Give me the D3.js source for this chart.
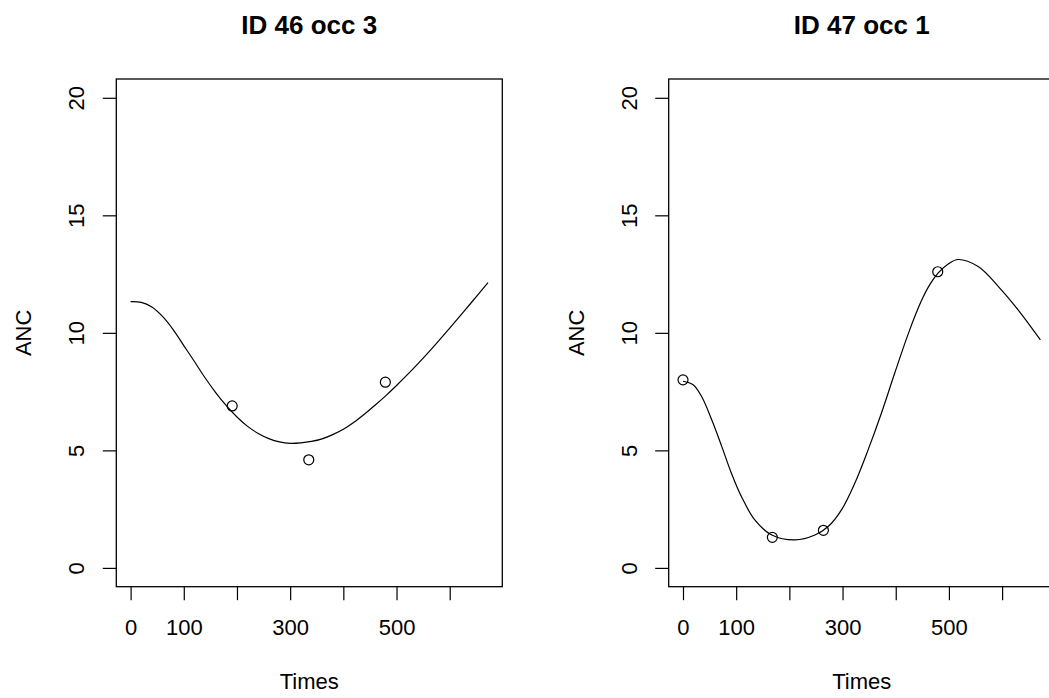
<!DOCTYPE html>
<html>
<head>
<meta charset="utf-8">
<script src="https://cdn.jsdelivr.net/npm/d3@7"></script>
<style>
  html, body { margin: 0; padding: 0; background: #fff; }
  svg { display: block; }
  text { font-family: "Liberation Sans", Arial, Helvetica, sans-serif; fill: #000; }
</style>
</head>
<body>
<svg id="chart" width="1049" height="698"></svg>
<script>
// ---- data ----
const panelTitles = ["ID 46 occ 3", "ID 47 occ 1"];
const xLabel = "Times";
const yLabel = "ANC";

// observed points
const obsTimes46 = [191, 335, 479];
const obsValues46 = [6.89, 4.6, 7.9];
const obsTimes47 = [0, 168, 264, 479];
const obsValues47 = [8.0, 1.3, 1.6, 12.6];

// fitted curves
const fitTimes46 = [0, 20, 40, 60, 80, 100, 120, 140, 160, 180, 200, 220, 240, 260, 280, 300, 320, 340, 360, 380, 400, 420, 440, 460, 480, 500, 520, 540, 560, 580, 600, 620, 640, 672];
const fitValues46 = [11.33, 11.30, 11.10, 10.70, 10.14, 9.46, 8.78, 8.09, 7.46, 6.90, 6.42, 6.02, 5.72, 5.50, 5.36, 5.30, 5.32, 5.38, 5.49, 5.67, 5.90, 6.20, 6.55, 6.93, 7.33, 7.76, 8.21, 8.68, 9.17, 9.68, 10.20, 10.73, 11.27, 12.14];
const fitTimes47 = [0, 19, 35, 54, 73, 91, 110, 135, 167, 211, 248, 273, 298, 323, 348, 373, 398, 424, 448, 464, 480, 500, 517, 555, 593, 630, 672];
const fitValues47 = [7.94, 7.79, 7.29, 6.30, 5.16, 4.03, 3.03, 2.04, 1.40, 1.19, 1.40, 1.76, 2.47, 3.60, 5.02, 6.58, 8.28, 9.99, 11.35, 12.05, 12.55, 12.95, 13.12, 12.82, 11.97, 10.98, 9.70];

const xTicks = [0, 100, 200, 300, 400, 500, 600];
const xTickLabels = ["0", "100", "", "300", "", "500", ""];
const yTicks = [0, 5, 10, 15, 20];
const yTickLabels = ["0", "5", "10", "15", "20"];
const xDataRange = [0, 672];
const yDataRange = [0, 20];

// ---- layout ----
const panels = [
  { title: panelTitles[0], left: 116.3, obsT: obsTimes46, obsV: obsValues46, fitT: fitTimes46, fitV: fitValues46 },
  { title: panelTitles[1], left: 668.7, obsT: obsTimes47, obsV: obsValues47, fitT: fitTimes47, fitV: fitValues47 }
];
const boxW = 386, boxTop = 79, boxBottom = 586.7;
const axisFont = 22, titleFont = 26;
const tickLen = 13.5;

function pad(r) { const d = (r[1] - r[0]) * 0.04; return [r[0] - d, r[1] + d]; }

const svg = d3.select("#chart");

panels.forEach(p => {
  const x = d3.scaleLinear().domain(pad(xDataRange)).range([p.left, p.left + boxW]);
  const y = d3.scaleLinear().domain(pad(yDataRange)).range([boxBottom, boxTop]);
  const g = svg.append("g");
  const cx = p.left + boxW / 2;

  // fitted curve
  const line = d3.line().x(d => x(d[0])).y(d => y(d[1])).curve(d3.curveCatmullRom.alpha(0.5));
  g.append("path")
    .datum(p.fitT.map((t, i) => [t, p.fitV[i]]))
    .attr("d", line)
    .attr("fill", "none").attr("stroke", "#000").attr("stroke-width", 1.2);

  // observed points
  g.selectAll("circle.obs").data(p.obsT.map((t, i) => [t, p.obsV[i]]))
    .enter().append("circle")
    .attr("cx", d => x(d[0])).attr("cy", d => y(d[1])).attr("r", 5)
    .attr("fill", "none").attr("stroke", "#000").attr("stroke-width", 1.2);

  // box
  g.append("rect")
    .attr("x", p.left).attr("y", boxTop).attr("width", boxW).attr("height", boxBottom - boxTop)
    .attr("fill", "none").attr("stroke", "#000").attr("stroke-width", 1.3);

  // x axis
  const xa = g.append("g").attr("transform", `translate(0,${boxBottom})`)
    .call(d3.axisBottom(x).tickValues(xTicks).tickSize(tickLen).tickPadding(19.2)
      .tickFormat((d, i) => xTickLabels[i]));
  xa.select(".domain").remove();
  xa.selectAll("line").attr("stroke", "#000").attr("stroke-width", 1.2);
  xa.selectAll("text").attr("font-size", axisFont).attr("fill", "#000")
    .style("font-family", '"Liberation Sans", Arial, sans-serif');

  // y axis
  const ya = g.append("g").attr("transform", `translate(${p.left},0)`)
    .call(d3.axisLeft(y).tickValues(yTicks).tickSize(tickLen).tickFormat((d, i) => yTickLabels[i]));
  ya.select(".domain").remove();
  ya.selectAll("line").attr("stroke", "#000").attr("stroke-width", 1.2);
  ya.selectAll("text")
    .attr("x", null).attr("dy", null)
    .attr("text-anchor", "middle")
    .attr("transform", "translate(-32,0) rotate(-90)")
    .attr("font-size", axisFont).attr("fill", "#000")
    .style("font-family", '"Liberation Sans", Arial, sans-serif');

  // title
  g.append("text").attr("x", cx).attr("y", 34).attr("text-anchor", "middle")
    .attr("font-size", titleFont).attr("font-weight", "bold").text(p.title);

  // x label
  g.append("text").attr("x", cx).attr("y", 689).attr("text-anchor", "middle")
    .attr("font-size", axisFont).text(xLabel);

  // y label
  const cy = (boxTop + boxBottom) / 2;
  g.append("text").attr("transform", `translate(${p.left - 85},${cy}) rotate(-90)`)
    .attr("text-anchor", "middle").attr("font-size", axisFont).text(yLabel);
});
</script>
</body>
</html>
